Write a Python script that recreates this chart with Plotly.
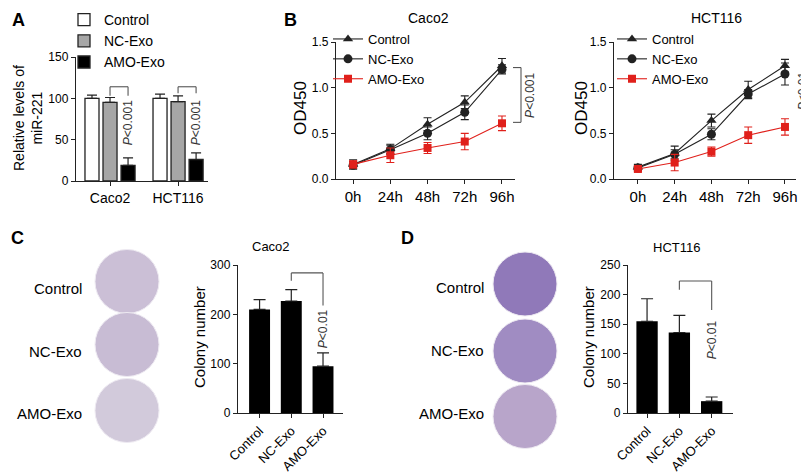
import plotly.graph_objects as go

W, H = 809, 476
FONT = "Liberation Sans, Arial, sans-serif"
INK = "#222222"
RED = "#e0201b"
BRACKET = "#555555"

# ---------------- data ----------------
cells = ["Caco2", "HCT116"]
groups = ["Control", "NC-Exo", "AMO-Exo"]
hours = ["0h", "24h", "48h", "72h", "96h"]

# A: relative miR-221 levels
mir_control = [100, 100]
mir_nc = [95, 96]
mir_amo = [19, 26]
mir_control_sd = [4, 5]
mir_nc_sd = [6, 7]
mir_amo_sd = [9, 8]

# B: CCK-8 OD450, Caco2
caco_control = [0.16, 0.33, 0.60, 0.84, 1.24]
caco_nc = [0.15, 0.32, 0.50, 0.73, 1.20]
caco_amo = [0.16, 0.26, 0.34, 0.41, 0.61]
caco_control_sd = [0.05, 0.05, 0.07, 0.07, 0.08]
caco_nc_sd = [0.04, 0.05, 0.07, 0.08, 0.05]
caco_amo_sd = [0.04, 0.08, 0.06, 0.09, 0.08]

# B: CCK-8 OD450, HCT116
hct_control = [0.13, 0.28, 0.64, 0.98, 1.24]
hct_nc = [0.12, 0.27, 0.49, 0.93, 1.15]
hct_amo = [0.11, 0.18, 0.30, 0.48, 0.57]
hct_control_sd = [0.03, 0.08, 0.07, 0.09, 0.07]
hct_nc_sd = [0.03, 0.05, 0.06, 0.05, 0.12]
hct_amo_sd = [0.03, 0.09, 0.05, 0.09, 0.09]

# C / D: colony numbers
caco_colonies = [210, 227, 95]
caco_colonies_sd = [20, 23, 27]
hct_colonies = [155, 136, 20]
hct_colonies_sd = [38, 29, 7]


def fx(p):
    return p / W


def fy(p):
    return 1 - p / H


def axis(**kw):
    d = dict(
        showline=True, linecolor=INK, linewidth=1.4, ticks="outside", ticklen=4,
        tickwidth=1.4, tickcolor=INK, showgrid=False, zeroline=False, fixedrange=True,
        automargin=False, tickfont=dict(size=12, color="black", family=FONT),
    )
    d.update(kw)
    return d


def up_err(sd, width=5):
    return dict(type="data", array=sd, arrayminus=[0] * len(sd), symmetric=False,
                color=INK, thickness=1.2, width=width)


def sym_err(sd, color):
    return dict(type="data", array=sd, color=color, thickness=1.1, width=4)


fig = go.Figure()

# ---- A: grouped bars ----
bar_styles = [("white", -0.368), ("#a6a6a6", -0.103), ("black", 0.162)]
for name, vals, sd, (color, off) in zip(groups, [mir_control, mir_nc, mir_amo],
                                        [mir_control_sd, mir_nc_sd, mir_amo_sd], bar_styles):
    fig.add_trace(go.Bar(
        x=cells, y=vals, name=name, width=0.206, offset=off,
        marker=dict(color=color, line=dict(color=INK, width=1.3)),
        error_y=up_err(sd), xaxis="x", yaxis="y", legend="legend", legendgroup="a" + name,
    ))

# ---- B: growth curves ----
line_styles = [("triangle-up", 9, INK), ("circle", 9, INK), ("square", 8, RED)]
for ax, leg, series in [
    ("2", "legend2", [(caco_control, caco_control_sd), (caco_nc, caco_nc_sd), (caco_amo, caco_amo_sd)]),
    ("3", "legend3", [(hct_control, hct_control_sd), (hct_nc, hct_nc_sd), (hct_amo, hct_amo_sd)]),
]:
    for name, (vals, sd), (sym, size, color) in zip(groups, series, line_styles):
        fig.add_trace(go.Scatter(
            x=hours, y=vals, name=name, mode="lines+markers",
            line=dict(color=color, width=1.1),
            marker=dict(symbol=sym, size=size, color=color),
            error_y=sym_err(sd, color), cliponaxis=False,
            xaxis="x" + ax, yaxis="y" + ax, legend=leg, legendgroup=ax + name,
        ))

# ---- C / D: colony bars ----
for ax, vals, sd in [("4", caco_colonies, caco_colonies_sd), ("5", hct_colonies, hct_colonies_sd)]:
    fig.add_trace(go.Bar(
        x=groups, y=vals, width=0.66, marker=dict(color="black", line=dict(width=0)),
        error_y=up_err(sd, 6), showlegend=False, xaxis="x" + ax, yaxis="y" + ax,
    ))

shapes = []
annotations = []


def line(x0, y0, x1, y1, xref, yref):
    shapes.append(dict(type="line", x0=x0, y0=y0, x1=x1, y1=y1, xref=xref, yref=yref,
                       line=dict(color=BRACKET, width=1.1)))


def ptext(text, x, y, xref, yref, size=12):
    annotations.append(dict(text=text, x=x, y=y, xref=xref, yref=yref, textangle=-90,
                            showarrow=False, font=dict(size=size, color="#333333", family=FONT)))


# A brackets (NC-Exo to AMO-Exo within each cell line)
for i, leg_l, leg_r in [(0, 103, 103), (1, 106, 106)]:
    line(i, leg_l, i, 114, "x", "y")
    line(i, 114, i + 0.265, 114, "x", "y")
    line(i + 0.265, 114, i + 0.265, leg_r, "x", "y")
    ptext("<i>P</i>&lt;0.001", i + 0.265, 70, "x", "y", 12)

# B brackets at right of the 96h points
for yref, xr, lo, hi, txt, tx, ty in [
    ("y2", 513, 0.62, 1.22, "<i>P</i>&lt;0.001", 522, 0.91),
    ("y3", 803, 0.61, 1.15, "<i>P</i>&lt;0.01", 804, 0.96),
]:
    line(fx(xr), lo, fx(xr), hi, "paper", yref)
    line(fx(xr - 8), lo, fx(xr), lo, "paper", yref)
    line(fx(xr - 8), hi, fx(xr), hi, "paper", yref)
    ptext(txt, fx(tx), ty, "paper", yref, 12)

# C / D brackets
for ax, left_bot, top, right_bot, ty in [("4", 268, 284, 218, 170), ("5", 208, 223, 174, 124)]:
    line(1, left_bot, 1, top, "x" + ax, "y" + ax)
    line(1, top, 2, top, "x" + ax, "y" + ax)
    line(2, top, 2, right_bot, "x" + ax, "y" + ax)
    ptext("<i>P</i>&lt;0.01", 2, ty, "x" + ax, "y" + ax, 12)

# colony plates (photographs approximated as tinted dishes)
plates = [
    (119, 273.5, "#cbbfd6"), (119, 336.5, "#c8bcd4"), (119, 402.5, "#d2cadb"),
    (517, 276, "#9079b9"), (517, 343, "#a08cc2"), (517, 408.5, "#b8a5ca"),
]
for cx, cy, color in plates:
    r = 32
    shapes.append(dict(type="circle", xref="paper", yref="paper",
                       x0=fx(cx - r), x1=fx(cx + r), y0=fy(cy + r), y1=fy(cy - r),
                       fillcolor=color, line=dict(color="#eeeaf2", width=1), layer="below"))


def label(text, x, y, size, xanchor="center", angle=0, bold=False):
    annotations.append(dict(text=f"<b>{text}</b>" if bold else text, x=fx(x), y=fy(y),
                            xref="paper", yref="paper", xanchor=xanchor, yanchor="middle",
                            textangle=angle, showarrow=False,
                            font=dict(size=size, color="black", family=FONT)))


# panel letters
label("A", 10, 12, 18, bold=True)
label("B", 282, 12, 18, bold=True)
label("C", 9, 230, 18, bold=True)
label("D", 399, 230, 18, bold=True)

# titles
label("Caco2", 420, 10, 14)
label("HCT116", 708, 10, 14)
label("Caco2", 263, 238, 13)
label("HCT116", 668, 239, 13)

# y axis titles
label("Relative levels of<br>miR-221", 20, 110, 14, angle=-90)
label("OD450", 292, 100, 17, angle=-90)
label("OD450", 573, 100, 17, angle=-90)
label("Colony number", 191, 329, 15, angle=-90)
label("Colony number", 580, 329, 15, angle=-90)

# plate labels
for name, yc, yd in zip(groups, [280, 343, 405], [279, 342, 405]):
    label(name, 76, yc, 15, xanchor="right")
    label(name, 478, yd, 15, xanchor="right")

legend_base = dict(xanchor="left", yanchor="top", bgcolor="rgba(0,0,0,0)",
                   font=dict(size=13, color="black", family=FONT), tracegroupgap=0,
                   itemwidth=30, itemclick=False, itemdoubleclick=False)

fig.update_layout(
    width=W, height=H, margin=dict(l=0, r=0, t=0, b=0, autoexpand=False),
    paper_bgcolor="white", plot_bgcolor="white",
    font=dict(family=FONT, color="black"),
    barmode="overlay", showlegend=True,
    legend=dict(legend_base, x=fx(56), y=fy(-4),
                font=dict(size=14, color="black", family=FONT)),
    legend2=dict(legend_base, x=fx(320), y=fy(16)),
    legend3=dict(legend_base, x=fx(604), y=fy(16)),
    xaxis=axis(domain=[fx(68), fx(200)], range=[-0.5, 1.44], anchor="y",
               tickfont=dict(size=14, color="black", family=FONT)),
    yaxis=axis(domain=[fy(173), fy(49)], range=[0, 150], dtick=50, anchor="x"),
    xaxis2=axis(domain=[fx(328), fx(507)], range=[-0.46, 4.35], anchor="y2",
                tickfont=dict(size=15, color="black", family=FONT)),
    yaxis2=axis(domain=[fy(171), fy(34)], range=[0, 1.5], dtick=0.5, tickformat=".1f", anchor="x2"),
    xaxis3=axis(domain=[fx(606), fx(788)], range=[-0.65, 4.3], anchor="y3",
                tickfont=dict(size=15, color="black", family=FONT)),
    yaxis3=axis(domain=[fy(171), fy(34)], range=[0, 1.5], dtick=0.5, tickformat=".1f", anchor="x3"),
    xaxis4=axis(domain=[fx(230), fx(335)], range=[-0.68, 2.63], anchor="y4", tickangle=-45,
                tickfont=dict(size=13, color="black", family=FONT)),
    yaxis4=axis(domain=[fy(405), fy(257)], range=[0, 300], dtick=100, anchor="x4"),
    xaxis5=axis(domain=[fx(620), fx(725)], range=[-0.59, 2.66], anchor="y5", tickangle=-45,
                tickfont=dict(size=13, color="black", family=FONT)),
    yaxis5=axis(domain=[fy(405), fy(257)], range=[0, 250], dtick=50, anchor="x5"),
    shapes=shapes,
    annotations=annotations,
)

fig.write_html("out.html")
